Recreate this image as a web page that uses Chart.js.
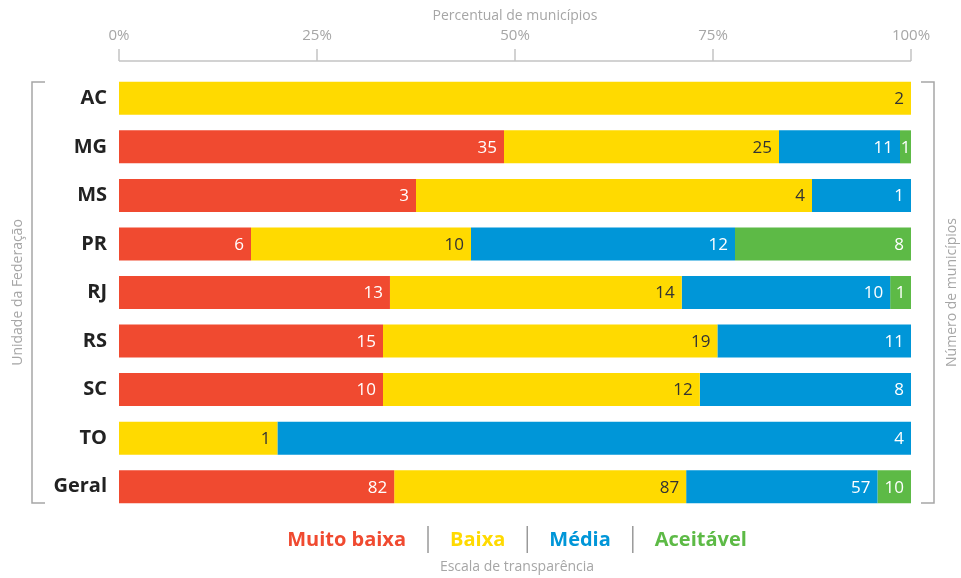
<!DOCTYPE html>
<html lang="pt">
<head>
    <meta charset="UTF-8">
    <title>Escala de transparência por UF</title>
    <script src="https://cdn.jsdelivr.net/npm/chart.js"></script>
    <style>
        body {
            margin: 0;
            background-color: #fff;
        }
        #wrap {
            width: 961px;
            height: 578px;
        }
    </style>
</head>
<body>
    <div id="wrap">
        <canvas id="grafico" width="961" height="578"></canvas>
    </div>

    <script>
        // Dados (número de municípios por faixa)
        const categorias = ["AC", "MG", "MS", "PR", "RJ", "RS", "SC", "TO", "Geral"];
        const muitoBaixa = [0, 35, 3, 6, 13, 15, 10, 0, 82];
        const baixa      = [2, 25, 4, 10, 14, 19, 12, 1, 87];
        const media      = [0, 11, 1, 12, 10, 11, 8, 4, 57];
        const aceitavel  = [0, 1, 0, 8, 1, 0, 0, 0, 10];
        const faixas = ["Muito baixa", "Baixa", "Média", "Aceitável"];
        const ticksPct = [0, 25, 50, 75, 100];

        const cores = ["#F04A30", "#FFDA00", "#0096D8", "#5DBA46"];
        const coresTexto = ["#ffffff", "#333333", "#ffffff", "#ffffff"];
        const fonte = "'Open Sans', 'Noto Sans', sans-serif";
        const cinza = "#a6a6a6";

        const series = [muitoBaixa, baixa, media, aceitavel];
        const totais = categorias.map((_, i) => series.reduce((s, arr) => s + arr[i], 0));
        const pct = arr => arr.map((v, i) => v / totais[i] * 100);

        // desenha eixo superior, colchetes, títulos laterais, rótulos e legenda
        const extras = {
            id: "extras",
            afterDatasetsDraw(chart) {
                const ctx = chart.ctx;
                const area = chart.chartArea;
                const xs = chart.scales.x;
                ctx.save();

                // rótulos dos valores
                ctx.font = "17px " + fonte;
                ctx.textBaseline = "middle";
                chart.data.datasets.forEach((ds, di) => {
                    const meta = chart.getDatasetMeta(di);
                    meta.data.forEach((bar, i) => {
                        const n = series[di][i];
                        if (!n) return;
                        ctx.fillStyle = coresTexto[di];
                        if (bar.x - bar.base < 26) {
                            // segmento estreito: centraliza
                            ctx.textAlign = "center";
                            ctx.fillText(String(n), (bar.x + bar.base) / 2, bar.y + 1);
                        } else {
                            ctx.textAlign = "right";
                            ctx.fillText(String(n), bar.x - 7, bar.y + 1);
                        }
                    });
                });

                // eixo superior
                const yEixo = area.top - 13;
                ctx.strokeStyle = "#c4c4c4";
                ctx.lineWidth = 1.5;
                ctx.beginPath();
                ctx.moveTo(xs.getPixelForValue(0), yEixo);
                ctx.lineTo(xs.getPixelForValue(100), yEixo);
                ticksPct.forEach(t => {
                    const x = xs.getPixelForValue(t);
                    ctx.moveTo(x, yEixo);
                    ctx.lineTo(x, yEixo - 12);
                });
                ctx.stroke();

                // colchetes
                const yTop = 82, yBot = 503;
                ctx.strokeStyle = cinza;
                ctx.lineWidth = 1.5;
                ctx.beginPath();
                ctx.moveTo(45, yTop); ctx.lineTo(32, yTop); ctx.lineTo(32, yBot); ctx.lineTo(45, yBot);
                ctx.moveTo(921, yTop); ctx.lineTo(934, yTop); ctx.lineTo(934, yBot); ctx.lineTo(921, yBot);
                ctx.stroke();

                // títulos laterais
                ctx.fillStyle = cinza;
                ctx.font = "14px " + fonte;
                ctx.textAlign = "center";
                ctx.textBaseline = "middle";
                [[18, "Unidade da Federação"], [952, "Número de municípios"]].forEach(([x, txt]) => {
                    ctx.save();
                    ctx.translate(x, (yTop + yBot) / 2);
                    ctx.rotate(-Math.PI / 2);
                    ctx.fillText(txt, 0, 0);
                    ctx.restore();
                });

                // legenda
                ctx.font = "bold 20px " + fonte;
                const gap = 44;
                const larguras = faixas.map(f => ctx.measureText(f).width);
                const total = larguras.reduce((a, b) => a + b, 0) + gap * (faixas.length - 1);
                let x = 517 - total / 2;
                const yLeg = 540;
                ctx.textAlign = "left";
                faixas.forEach((f, i) => {
                    ctx.fillStyle = cores[i];
                    ctx.fillText(f, x, yLeg);
                    x += larguras[i];
                    if (i < faixas.length - 1) {
                        ctx.strokeStyle = "#999";
                        ctx.lineWidth = 1.5;
                        ctx.beginPath();
                        ctx.moveTo(x + gap / 2, yLeg - 14);
                        ctx.lineTo(x + gap / 2, yLeg + 13);
                        ctx.stroke();
                        x += gap;
                    }
                });
                ctx.fillStyle = cinza;
                ctx.font = "14px " + fonte;
                ctx.textAlign = "center";
                ctx.fillText("Escala de transparência", 517, 567);

                ctx.restore();
            }
        };

        new Chart(document.getElementById("grafico"), {
            type: "bar",
            data: {
                labels: categorias,
                datasets: series.map((arr, i) => ({
                    label: faixas[i],
                    data: pct(arr),
                    backgroundColor: cores[i],
                    borderWidth: 0,
                    barPercentage: 0.68,
                    categoryPercentage: 1
                }))
            },
            options: {
                indexAxis: "y",
                responsive: false,
                animation: false,
                layout: { padding: { left: 40, right: 50, top: 0, bottom: 67 } },
                plugins: {
                    legend: { display: false },
                    tooltip: { enabled: false }
                },
                scales: {
                    x: {
                        position: "top",
                        stacked: true,
                        min: 0,
                        max: 100,
                        afterFit: s => { s.height = 74; },
                        afterBuildTicks: s => { s.ticks = ticksPct.map(v => ({ value: v })); },
                        grid: { display: false },
                        border: { display: false },
                        ticks: {
                            padding: 21,
                            color: cinza,
                            font: { family: fonte, size: 15 },
                            callback: v => v + "%",
                            maxRotation: 0
                        },
                        title: {
                            display: true,
                            text: "Percentual de municípios",
                            color: cinza,
                            font: { family: fonte, size: 14 },
                            padding: { top: 8, bottom: 0 }
                        }
                    },
                    y: {
                        stacked: true,
                        afterFit: s => { s.width = 79; },
                        grid: { display: false },
                        border: { display: false },
                        ticks: {
                            padding: 4,
                            color: "#222",
                            font: { family: fonte, size: 20, weight: "bold" }
                        }
                    }
                }
            },
            plugins: [extras]
        });
    </script>
</body>
</html>
